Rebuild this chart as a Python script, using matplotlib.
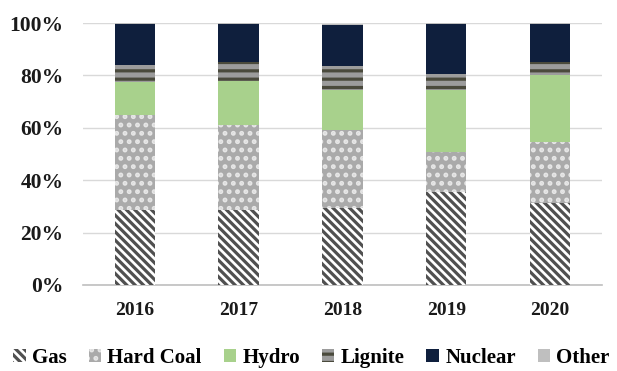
import matplotlib
matplotlib.use("Agg")
import matplotlib.pyplot as plt
import numpy as np

years = ["2016", "2017", "2018", "2019", "2020"]
gas = [28.6, 28.6, 29.4, 35.5, 31.3]
hard_coal = [36.3, 32.4, 29.8, 15.3, 23.3]
hydro = [12.7, 16.8, 15.4, 23.6, 25.6]
lignite = [6.4, 7.4, 9.0, 6.2, 4.8]
nuclear = [15.6, 14.4, 15.6, 19.0, 14.6]
other = [0.4, 0.4, 0.4, 0.4, 0.4]
yticks = [0, 20, 40, 60, 80, 100]

plt.rcParams['font.family'] = ['Liberation Serif', 'DejaVu Serif']
plt.rcParams['font.weight'] = 'bold'
plt.rcParams['hatch.linewidth'] = 2.3

fig = plt.figure(figsize=(6.17, 3.71), dpi=100)
ax = fig.add_axes([0.1345, 0.232, 0.841, 0.706])

x = np.arange(len(years))
w = 0.39
series = [
    ("Gas", gas, dict(facecolor="white", edgecolor="#505050", hatch="\\\\\\\\", linewidth=0)),
    ("Hard Coal", hard_coal, dict(facecolor="#aaaaaa", edgecolor="#e6e6e6", hatch="..", linewidth=0)),
    ("Hydro", hydro, dict(facecolor="#a8d18c", edgecolor="#a8d18c", linewidth=0)),
    ("Lignite", lignite, dict(facecolor="#9c9c9c", edgecolor="#4a4a3c", hatch="--", linewidth=0)),
    ("Nuclear", nuclear, dict(facecolor="#0f1f3d", edgecolor="#0f1f3d", linewidth=0)),
    ("Other", other, dict(facecolor="#bfbfbf", edgecolor="#bfbfbf", linewidth=0)),
]
bottom = np.zeros(len(years))
handles = []
for name, vals, style in series:
    b = ax.bar(x, vals, w, bottom=bottom, label=name, zorder=3, **style)
    handles.append(b)
    bottom += np.array(vals)

ax.set_ylim(0, 100)
ax.set_xlim(-0.5, len(years) - 0.5)
ax.set_yticks(yticks)
ax.set_yticklabels([f"{v}%" for v in yticks])
ax.set_xticks(x)
ax.set_xticklabels(years)
ax.tick_params(axis='both', length=0, colors="#1a1a1a")
ax.tick_params(axis='y', pad=14, labelsize=15.5)
ax.tick_params(axis='x', pad=12, labelsize=14)
ax.grid(axis='y', color="#d9d9d9", linewidth=1, zorder=0)
for s in ["top", "right", "left"]:
    ax.spines[s].set_visible(False)
ax.spines["bottom"].set_color("#bfbfbf")
ax.spines["bottom"].set_linewidth(1.2)

leg = fig.legend(handles=handles, labels=[h.get_label() for h in handles],
                 loc="center", bbox_to_anchor=(0.505, 0.035), ncol=6, frameon=False,
                 fontsize=15, handlelength=0.6, handleheight=0.6, handletextpad=0.3,
                 columnspacing=1.05)
fig.savefig("out.png", dpi=100)
